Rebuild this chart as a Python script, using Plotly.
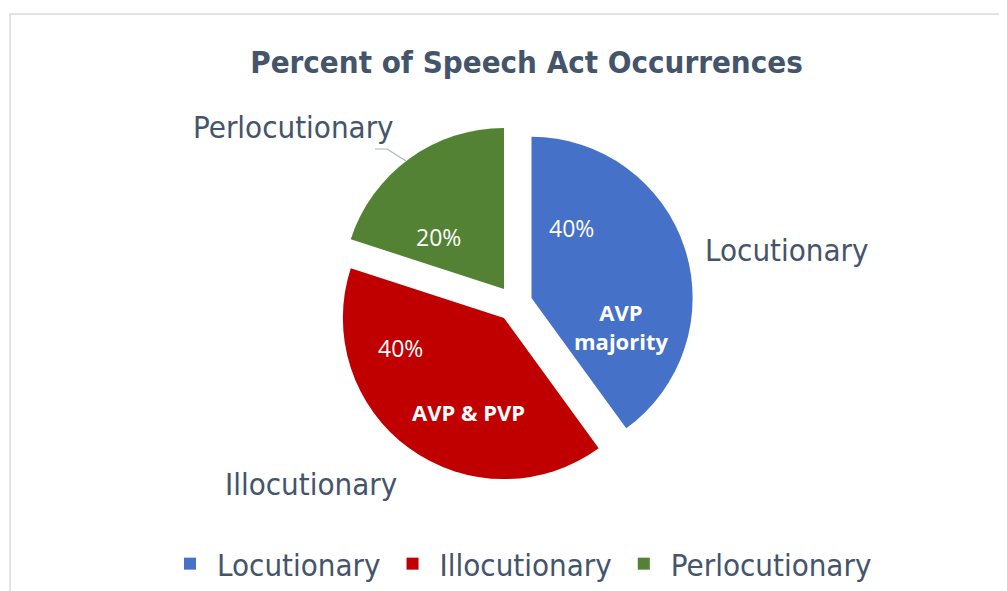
import plotly.graph_objects as go

categories = ["Locutionary", "Illocutionary", "Perlocutionary"]
values = [40, 40, 20]
colors = ["#4571C8", "#C00000", "#548235"]
notes = ["AVP majority", "AVP & PVP", ""]
title_text = "Percent of Speech Act Occurrences"

# the page body has an 8px margin, so the figure starts at (8, 8)
OFF = 8
W, H = 1007 - OFF, 591 - OFF
total = sum(values)
pcts = [f"{v / total * 100:.0f}%" for v in values]

def px(x):
    return (x - OFF) / W

def py(y):
    return 1 - (y - OFF) / H

cx, cy, half = 514.5, 303.5, 179

fig = go.Figure()
fig.add_trace(go.Pie(
    labels=categories,
    values=values,
    sort=False,
    direction="clockwise",
    rotation=0,
    pull=[0.111, 0.111, 0.111],
    marker=dict(colors=colors, line=dict(width=0)),
    textinfo="none",
    hoverinfo="label+percent",
    domain=dict(x=[px(cx - half), px(cx + half)], y=[py(cy + half), py(cy - half)]),
    showlegend=True,
))

label_font = dict(family="DejaVu Sans Condensed", size=31, color="#44546A")
pct_font = dict(family="Open Sans", size=23, color="white")
note_font = dict(family="Open Sans", size=22, color="white")

annotations = []
outer_pos = [(787, 250), (311, 484), (293, 127)]
for name, (x, y) in zip(categories, outer_pos):
    annotations.append(dict(x=px(x), y=py(y), xref="paper", yref="paper", text=name,
                            showarrow=False, font=label_font, xanchor="center", yanchor="middle"))
pct_pos = [(571, 228), (400, 348), (438, 237)]
for p, (x, y) in zip(pcts, pct_pos):
    annotations.append(dict(x=px(x), y=py(y), xref="paper", yref="paper", text=p,
                            showarrow=False, font=pct_font, xanchor="center", yanchor="middle"))
note_pos = [(621, 326), (468, 412)]
for n, (x, y) in zip(notes, note_pos):
    if n:
        annotations.append(dict(x=px(x), y=py(y), xref="paper", yref="paper",
                                text="<b>" + n.replace("AVP majority", "AVP<br>majority") + "</b>",
                                showarrow=False, font=note_font, xanchor="center", yanchor="middle",
                                align="center"))

shapes = [
    dict(type="rect", xref="paper", yref="paper", x0=px(10), y0=-0.05, x1=1.05, y1=py(14),
         line=dict(color="#D9D9D9", width=1.5), fillcolor="rgba(0,0,0,0)", layer="below"),
    dict(type="path", xref="paper", yref="paper",
         path=f"M {px(375)} {py(149)} L {px(387)} {py(149)} L {px(406)} {py(161)}",
         line=dict(color="#A6B5C9", width=1.2)),
]

fig.update_layout(
    width=W, height=H,
    margin=dict(l=0, r=0, t=0, b=0, autoexpand=False),
    paper_bgcolor="white",
    plot_bgcolor="white",
    title=dict(text="<b>" + title_text + "</b>", x=px(526.5), xanchor="center", y=py(62), yanchor="middle",
               font=dict(family="DejaVu Sans Condensed", size=31, color="#44546A")),
    legend=dict(orientation="h", x=px(163), xanchor="left", y=0, yanchor="bottom",
                font=dict(family="DejaVu Sans Condensed", size=31, color="#44546A"),
                itemwidth=44, itemsizing="constant", traceorder="normal"),
    annotations=annotations,
    shapes=shapes,
)

fig.write_html("out.html")
